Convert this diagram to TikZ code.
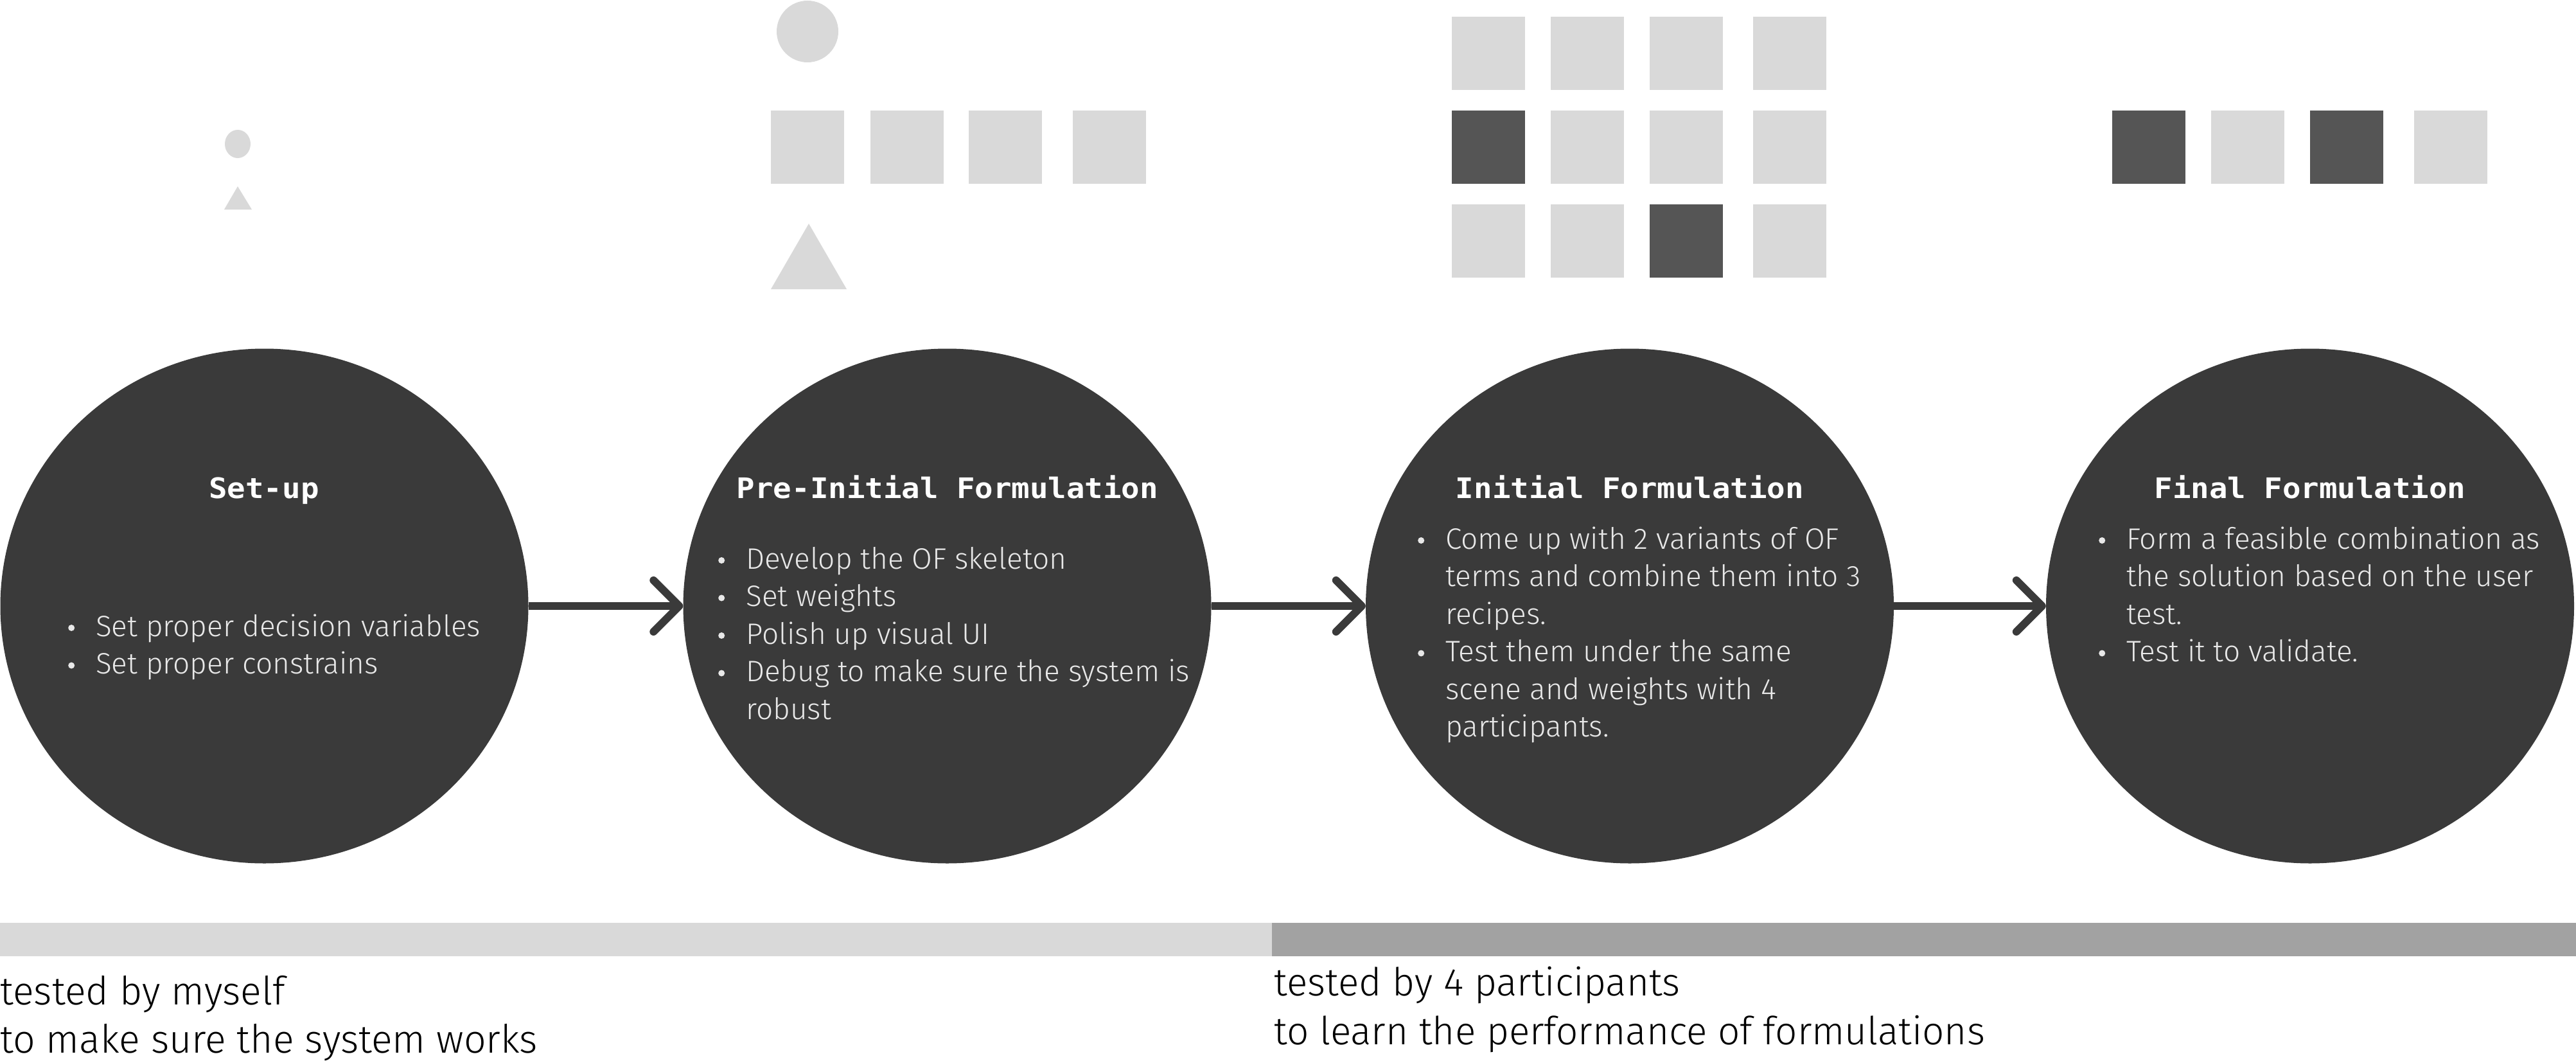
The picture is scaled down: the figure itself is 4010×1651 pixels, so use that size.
\documentclass[tikz,border=0pt]{standalone}
\usepackage{fontspec}
\usetikzlibrary{arrows.meta,shapes.geometric}
\setmainfont{Fira Sans Light}
\newfontfamily\titlefont{DejaVu Sans Mono Bold}[FakeStretch=1.077]
\definecolor{circ}{HTML}{3A3A3A}
\definecolor{ltxt}{HTML}{E8E8E8}
\definecolor{lgray}{HTML}{D9D9D9}
\definecolor{dgray}{HTML}{555555}
\definecolor{mgray}{HTML}{A2A2A2}
\newcommand{\bl}[1]{\hbox{\llap{\tikz[baseline=0pt]\fill[ltxt] (0pt,13pt) circle[radius=5pt];\hspace{33pt}}#1}}
\newcommand{\cl}[1]{\hbox{#1}}
\tikzset{
  stage/.style={ellipse, fill=circ, minimum width=822pt, minimum height=801pt, inner sep=0pt},
  ttl/.style={anchor=base, inner sep=0pt, text=white, font=\titlefont\fontsize{44}{52}\selectfont},
  body/.style={anchor=base west, inner sep=0pt, text=ltxt, font=\fontsize{46}{58.5}\selectfont},
  btxt/.style={anchor=base west, inner sep=0pt, text=black, font=\fontsize{60.8}{75}\selectfont},
  btxtr/.style={anchor=base west, inner sep=0pt, text=black, font=\fontsize{60.2}{75}\selectfont},
  conn/.style={draw=circ, line width=12pt, -{Straight Barb[length=40pt, width=80pt, round]}},
  sq/.style={fill=lgray},
  sqd/.style={fill=dgray},
}
\begin{document}
\begin{tikzpicture}[x=1pt, y=-1pt]
\useasboundingbox (0,0) rectangle (4010,1651);
% top decorations
\fill[lgray] (370,224) ellipse [x radius=20, y radius=22];
\fill[lgray] (370,290) -- (349,326) -- (392,326) -- cycle;
\fill[lgray] (1257,49) circle [radius=48];
\foreach \x in {1200,1355,1508,1670} \fill[sq] (\x,172) rectangle ++(114,114);
\fill[lgray] (1259,348) -- (1200,450) -- (1318,450) -- cycle;
\foreach \x in {2260,2414,2568,2729} {
  \fill[sq] (\x,26) rectangle ++(114,114);
  \fill[sq] (\x,172) rectangle ++(114,114);
  \fill[sq] (\x,318) rectangle ++(114,114);
}
\fill[sqd] (2260,172) rectangle ++(114,114);
\fill[sqd] (2568,318) rectangle ++(114,114);
\foreach \x in {3288,3442,3596,3758} \fill[sq] (\x,172) rectangle ++(114,114);
\fill[sqd] (3288,172) rectangle ++(114,114);
\fill[sqd] (3596,172) rectangle ++(114,114);
% stages
\node[stage] (c1) at (411.5,943) {};
\node[stage] (c2) at (1474.5,943) {};
\node[stage] (c3) at (2537,943) {};
\node[stage] (c4) at (3596,943) {};
\draw[conn] (c1) -- (c2);
\draw[conn] (c2) -- (c3);
\draw[conn] (c3) -- (c4);
\node[ttl] (t1) at (411,775) {Set-up};
\node[ttl] (t2) at (1475,775) {Pre-Initial Formulation};
\node[ttl] (t3) at (2537,775) {Initial Formulation};
\node[ttl] (t4) at (3596,775) {Final Formulation};
\node[body] (b1) at (149,990) {\vtop{\baselineskip=58.5pt
  \bl{Set proper decision variables}
  \bl{Set proper constrains}}};
\node[body] (b2) at (1161,885) {\vtop{\baselineskip=58.5pt
  \bl{Develop the OF skeleton}
  \bl{Set weights}
  \bl{Polish up visual UI}
  \bl{Debug to make sure the system is}
  \cl{robust}}};
\node[body] (b3) at (2250,854) {\vtop{\baselineskip=58.5pt
  \bl{Come up with 2 variants of OF}
  \cl{terms and combine them into 3}
  \cl{recipes.}
  \bl{Test them under the same}
  \cl{scene and weights with 4}
  \cl{participants.}}};
\node[body] (b4) at (3310,854) {\vtop{\baselineskip=58.5pt
  \bl{Form a feasible combination as}
  \cl{the solution based on the user}
  \cl{test.}
  \bl{Test it to validate.}}};
% bottom bars
\fill[lgray] (0,1436) rectangle (1980,1488);
\fill[mgray] (1980,1436) rectangle (4010,1488);
\node[btxt] (l1) at (0,1563) {\vtop{\baselineskip=75pt
  \hbox{tested by myself}
  \hbox{to make sure the system works}}};
\node[btxtr] (l2) at (1983,1549) {\vtop{\baselineskip=76pt
  \hbox{tested by 4 participants}
  \hbox{to learn the performance of formulations}}};
\end{tikzpicture}
\end{document}
